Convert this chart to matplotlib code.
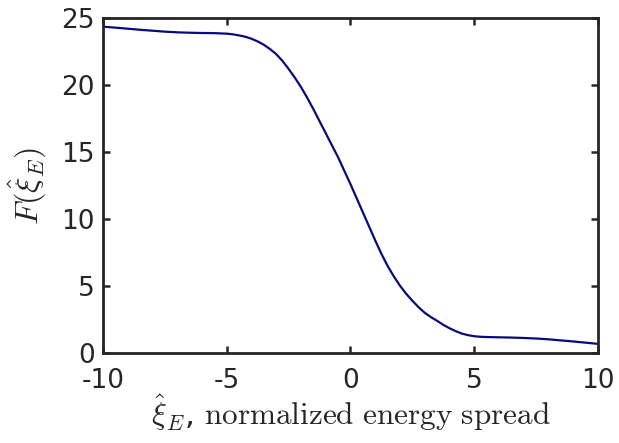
import matplotlib
matplotlib.use("Agg")
import matplotlib.pyplot as plt

# Sampled normalized energy spread and the corresponding F values
xi_E = [-10, -9.5, -9, -8.5, -8, -7.5, -7, -6.5, -6, -5.5,
        -5, -4.75, -4.5, -4.25, -4, -3.75, -3.5, -3.25, -3, -2.75,
        -2.5, -2.25, -2, -1.75, -1.5, -1, -0.5, 0, 0.5, 1,
        1.25, 1.5, 1.75, 2, 2.25, 2.5, 2.75, 3, 3.25, 3.5, 3.75,
        4, 4.25, 4.5, 4.75, 5, 5.25, 5.5, 6, 6.5, 7,
        7.5, 8, 8.5, 9, 9.5, 10]
F_vals = [24.35, 24.28, 24.2, 24.12, 24.05, 23.98, 23.93, 23.9, 23.88, 23.87,
          23.83, 23.78, 23.7, 23.6, 23.45, 23.25, 23.0, 22.68, 22.3, 21.8,
          21.2, 20.55, 19.85, 19.05, 18.2, 16.4, 14.6, 12.6, 10.5, 8.4,
          7.4, 6.5, 5.72, 5.02, 4.42, 3.9, 3.42, 3.0, 2.68, 2.4, 2.1,
          1.85, 1.63, 1.45, 1.33, 1.25, 1.21, 1.19, 1.17, 1.15, 1.12,
          1.08, 1.02, 0.94, 0.86, 0.77, 0.68]

x_ticks = [-10, -5, 0, 5, 10]
x_tick_labels = ["-10", "-5", "0", "5", "10"]
y_ticks = [0, 5, 10, 15, 20, 25]
y_tick_labels = ["0", "5", "10", "15", "20", "25"]

plt.rcParams["mathtext.fontset"] = "cm"

fig = plt.figure(figsize=(6.19, 4.43), dpi=100)
ax = fig.add_axes([0.1664, 0.2032, 0.7996, 0.7562])

ax.plot(xi_E, F_vals, color="#0a0a7a", linewidth=1.6)

ax.set_xlim(-10, 10)
ax.set_ylim(0, 25)
ax.set_xticks(x_ticks)
ax.set_xticklabels(x_tick_labels)
ax.set_yticks(y_ticks)
ax.set_yticklabels(y_tick_labels)

ax.tick_params(direction="in", top=True, right=True, length=5, width=1.8,
               labelsize=19, colors="#262626")
ax.tick_params(axis="x", pad=10.5)
ax.tick_params(axis="y", pad=6)
for sp in ax.spines.values():
    sp.set_linewidth(2.0)
    sp.set_color("#262626")

ax.set_xlabel(r"$\hat{\xi}_E$, $\mathrm{normalized\ energy\ spread}$",
              fontsize=22.5, color="#262626", labelpad=-1)
ax.set_ylabel(r"$F(\hat{\xi}_E)$", fontsize=23, color="#262626", labelpad=9)

fig.savefig("out.png", dpi=100)
